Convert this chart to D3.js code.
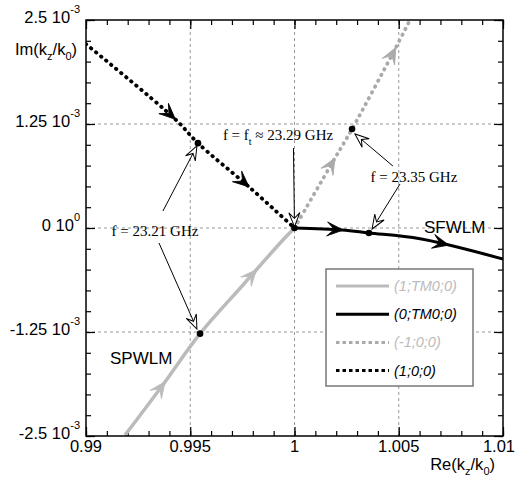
<!DOCTYPE html>
<html><head><meta charset="utf-8">
<script src="https://cdn.jsdelivr.net/npm/d3@7"></script>
<style>body{margin:0;background:#fff}svg{display:block}</style>
</head><body><svg id="c" width="520" height="479"></svg>
<script>
// ---- data (Re(kz/k0), Im(kz/k0) in units of 1e-3) ----
const spwlmRe = [0.99187, 0.99370, 0.99547, 0.99753, 0.99940, 1.00000];
const spwlmIm = [-2.49, -1.88, -1.27, -0.685, -0.156, 0.0];
const sfwlmRe = [1.00000, 1.00228, 1.00357, 1.00602, 1.01000];
const sfwlmIm = [0.0, -0.024, -0.06, -0.13, -0.373];
const leakyMinusRe = [1.00000, 1.00194, 1.00276, 1.00482, 1.00554];
const leakyMinusIm = [0.0, 0.84, 1.19, 2.15, 2.5];
const leakyPlusRe = [0.99000, 0.99427, 0.99537, 0.99777, 1.00000];
const leakyPlusIm = [2.21, 1.31, 1.02, 0.505, 0.0];
const seriesNames = ["(1;TM0;0)", "(0;TM0;0)", "(-1;0;0)", "(1;0;0)"];
const markerRe = [0.99537, 0.99547, 1.00276, 1.00357, 1.00000];
const markerIm = [1.02, -1.27, 1.19, -0.06, 0.0];
const xTicks = [0.99, 0.995, 1, 1.005, 1.01];
const xTickLabels = ["0.99", "0.995", "1", "1.005", "1.01"];
const yTicks = [2.5, 1.25, 0, -1.25, -2.5];
const yTickBase = ["2.5 10", "1.25 10", "0 10", "-1.25 10", "-2.5 10"];
const yTickExp = ["-3", "-3", "0", "-3", "-3"];

const svg = d3.select("#c");
const L = 86, R = 503, T = 20, B = 436;
const x = d3.scaleLinear().domain([0.99, 1.01]).range([L, R]);
const y = d3.scaleLinear().domain([-2.5, 2.5]).range([B, T]);
const sans = "'Liberation Sans', Arial, Helvetica, sans-serif";
const serif = "'Liberation Serif', 'Times New Roman', serif";

// grid
const g = svg.append("g");
[0.995, 1, 1.005].forEach(v => g.append("line").attr("x1", x(v)).attr("x2", x(v)).attr("y1", T).attr("y2", B)
  .attr("stroke", "#999").attr("stroke-width", 1).attr("stroke-dasharray", "3,3"));
[1.25, 0, -1.25].forEach(v => g.append("line").attr("y1", y(v)).attr("y2", y(v)).attr("x1", L).attr("x2", R)
  .attr("stroke", "#999").attr("stroke-width", 1).attr("stroke-dasharray", "3,3"));

// axes (inward ticks)
const xMinor = d3.range(0, 21).map(i => 0.99 + i * 0.001);
const yMinor = d3.range(0, 21).map(i => -2.5 + i * 0.25);
function styleAxis(sel) { sel.select(".domain").remove(); sel.selectAll("line").attr("stroke", "#000").attr("stroke-width", 1.2); }
svg.append("g").attr("transform", `translate(0,${B})`).call(d3.axisBottom(x).tickValues(xMinor).tickSize(-5).tickFormat("")).call(styleAxis);
svg.append("g").attr("transform", `translate(0,${T})`).call(d3.axisTop(x).tickValues(xMinor).tickSize(-5).tickFormat("")).call(styleAxis);
svg.append("g").attr("transform", `translate(${L},0)`).call(d3.axisLeft(y).tickValues(yMinor).tickSize(-5).tickFormat("")).call(styleAxis);
svg.append("g").attr("transform", `translate(${R},0)`).call(d3.axisRight(y).tickValues(yMinor).tickSize(-5).tickFormat("")).call(styleAxis);
svg.append("g").attr("transform", `translate(0,${B})`).call(d3.axisBottom(x).tickValues(xTicks).tickSize(-9).tickFormat("")).call(styleAxis);
svg.append("g").attr("transform", `translate(0,${T})`).call(d3.axisTop(x).tickValues(xTicks).tickSize(-9).tickFormat("")).call(styleAxis);
svg.append("g").attr("transform", `translate(${L},0)`).call(d3.axisLeft(y).tickValues(yTicks).tickSize(-9).tickFormat("")).call(styleAxis);
svg.append("g").attr("transform", `translate(${R},0)`).call(d3.axisRight(y).tickValues(yTicks).tickSize(-9).tickFormat("")).call(styleAxis);

// x tick labels
xTicks.forEach((v, i) => svg.append("text").attr("x", x(v) - (i === xTicks.length - 1 ? 4 : 0)).attr("y", B + 16).attr("text-anchor", "middle")
  .attr("font-family", sans).attr("font-size", 16.5).text(xTickLabels[i]));
// y tick labels with superscripts
yTicks.forEach((v, i) => {
  const t = svg.append("text").attr("x", L - 6).attr("y", y(v) + 3).attr("text-anchor", "end")
    .attr("font-family", sans).attr("font-size", 16.5);
  t.append("tspan").text(yTickBase[i]);
  t.append("tspan").attr("font-size", 11).attr("dy", -10).text(yTickExp[i]);
});

// axis titles
function subTitle(xp, yp, anchor, parts) {
  const t = svg.append("text").attr("x", xp).attr("y", yp).attr("text-anchor", anchor).attr("font-family", sans).attr("font-size", 16.5);
  parts.forEach(p => t.append("tspan").attr("font-size", p[1] ? 11 : 16.5).attr("dy", p[1] ? 5 : (p[2] || 0)).text(p[0]));
  return t;
}
subTitle(15, 55, "start", [["Im(k"], ["z", 1], ["/k", 0, -5], ["0", 1], [")", 0, -5]]);
subTitle(495, 470, "end", [["Re(k"], ["z", 1], ["/k", 0, -5], ["0", 1], [")", 0, -5]]);

// curves
const line = d3.line().x(d => x(d[0])).y(d => y(d[1])).curve(d3.curveCatmullRom.alpha(0.5));
svg.append("clipPath").attr("id", "pc").append("rect").attr("x", L).attr("y", T).attr("width", R - L).attr("height", B - T);
const series = [
  { re: spwlmRe, im: spwlmIm, color: "#bbb", dash: null, w: 3.5, arrows: [0.25, 0.79] },
  { re: sfwlmRe, im: sfwlmIm, color: "#000", dash: null, w: 3, arrows: [0.23, 0.735] },
  { re: leakyMinusRe, im: leakyMinusIm, color: "#aaa", dash: "0.5,6", w: 3.8, arrows: [0.34, 0.87] },
  { re: leakyPlusRe, im: leakyPlusIm, color: "#000", dash: "0.5,6", w: 3.8, arrows: [0.42, 0.78] }
];
const cg = svg.append("g").attr("clip-path", "url(#pc)");
function barb(len, wid, notch) { return `M0,0 L${-len},${-wid} L${-len * notch},0 L${-len},${wid} Z`; }
series.forEach(s => {
  const pts = s.re.map((r, i) => [r, s.im[i]]);
  const p = cg.append("path").attr("d", line(pts)).attr("fill", "none").attr("stroke", s.color)
    .attr("stroke-width", s.w).attr("stroke-linecap", s.dash ? "round" : "butt");
  if (s.dash) p.attr("stroke-dasharray", s.dash);
  const node = p.node(), tl = node.getTotalLength();
  s.arrows.forEach(f => {
    const a = node.getPointAtLength(f * tl), b = node.getPointAtLength(f * tl - 4);
    const ang = Math.atan2(a.y - b.y, a.x - b.x) * 180 / Math.PI;
    cg.append("path").attr("d", barb(16, 7, 0.55)).attr("fill", s.color).attr("stroke", s.color).attr("stroke-width", 0.8)
      .attr("stroke-linejoin", "round")
      .attr("transform", `translate(${a.x},${a.y}) rotate(${ang})`);
  });
});

// markers
markerRe.forEach((r, i) => svg.append("circle").attr("cx", x(r)).attr("cy", y(markerIm[i])).attr("r", 3.3).attr("fill", "#000"));

// annotation arrows (data units)
const annArrows = [
  [0.99995, 0.96, 1.0, 0.015],
  [0.99369, 0.204, 0.99532, 0.986],
  [0.99350, -0.18, 0.99532, -1.214],
  [1.00472, 0.745, 1.00290, 1.13],
  [1.00506, 0.529, 1.00372, -0.012]
];
annArrows.forEach(a => {
  const x1 = x(a[0]), y1 = y(a[1]), x2 = x(a[2]), y2 = y(a[3]);
  const ang = Math.atan2(y2 - y1, x2 - x1);
  svg.append("line").attr("x1", x1).attr("y1", y1).attr("x2", x2 - Math.cos(ang) * 8).attr("y2", y2 - Math.sin(ang) * 8)
    .attr("stroke", "#000").attr("stroke-width", 1);
  svg.append("path").attr("d", barb(14, 5.5, 0.6)).attr("fill", "#fff").attr("stroke", "#000").attr("stroke-width", 1)
    .attr("transform", `translate(${x2},${y2}) rotate(${ang * 180 / Math.PI})`);
});

// annotation texts
const fs = 15;
const t1 = svg.append("text").attr("x", x(0.99921)).attr("y", y(1.058)).attr("text-anchor", "middle")
  .attr("font-family", serif).attr("font-size", fs);
t1.append("tspan").text("f = f");
t1.append("tspan").attr("font-size", 10).attr("dy", 5).text("t");
t1.append("tspan").attr("dy", -5).text(" \u2248 23.29 GHz");
svg.append("text").attr("x", x(0.99331)).attr("y", y(-0.096)).attr("text-anchor", "middle")
  .attr("font-family", serif).attr("font-size", fs).text("f = 23.21 GHz");
svg.append("text").attr("x", x(1.00573)).attr("y", y(0.553)).attr("text-anchor", "middle")
  .attr("font-family", serif).attr("font-size", fs).text("f = 23.35 GHz");
svg.append("text").attr("x", x(1.00621)).attr("y", y(-0.06)).attr("font-family", sans).attr("font-size", 17).text("SFWLM");
svg.append("text").attr("x", x(0.99115)).attr("y", y(-1.635)).attr("font-family", sans).attr("font-size", 17).text("SPWLM");

// frame
svg.append("rect").attr("x", L).attr("y", T).attr("width", R - L).attr("height", B - T)
  .attr("fill", "none").attr("stroke", "#000").attr("stroke-width", 1.5);

// legend
const lg = svg.append("g").attr("transform", "translate(326,269)");
lg.append("rect").attr("width", 147).attr("height", 117).attr("fill", "#fff").attr("stroke", "#777").attr("stroke-width", 1.5);
series.forEach((s, i) => {
  const yy = 17 + i * 28.2;
  const l = lg.append("line").attr("x1", 10).attr("x2", 63).attr("y1", yy).attr("y2", yy)
    .attr("stroke", s.color).attr("stroke-width", 3);
  if (s.dash) l.attr("stroke-dasharray", "3.5,3");
  lg.append("text").attr("x", 68).attr("y", yy + 5).attr("font-family", sans).attr("font-style", "italic")
    .attr("font-size", 14.5).attr("fill", s.color === "#000" ? "#000" : "#bbb").text(seriesNames[i]);
});
</script></body></html>
